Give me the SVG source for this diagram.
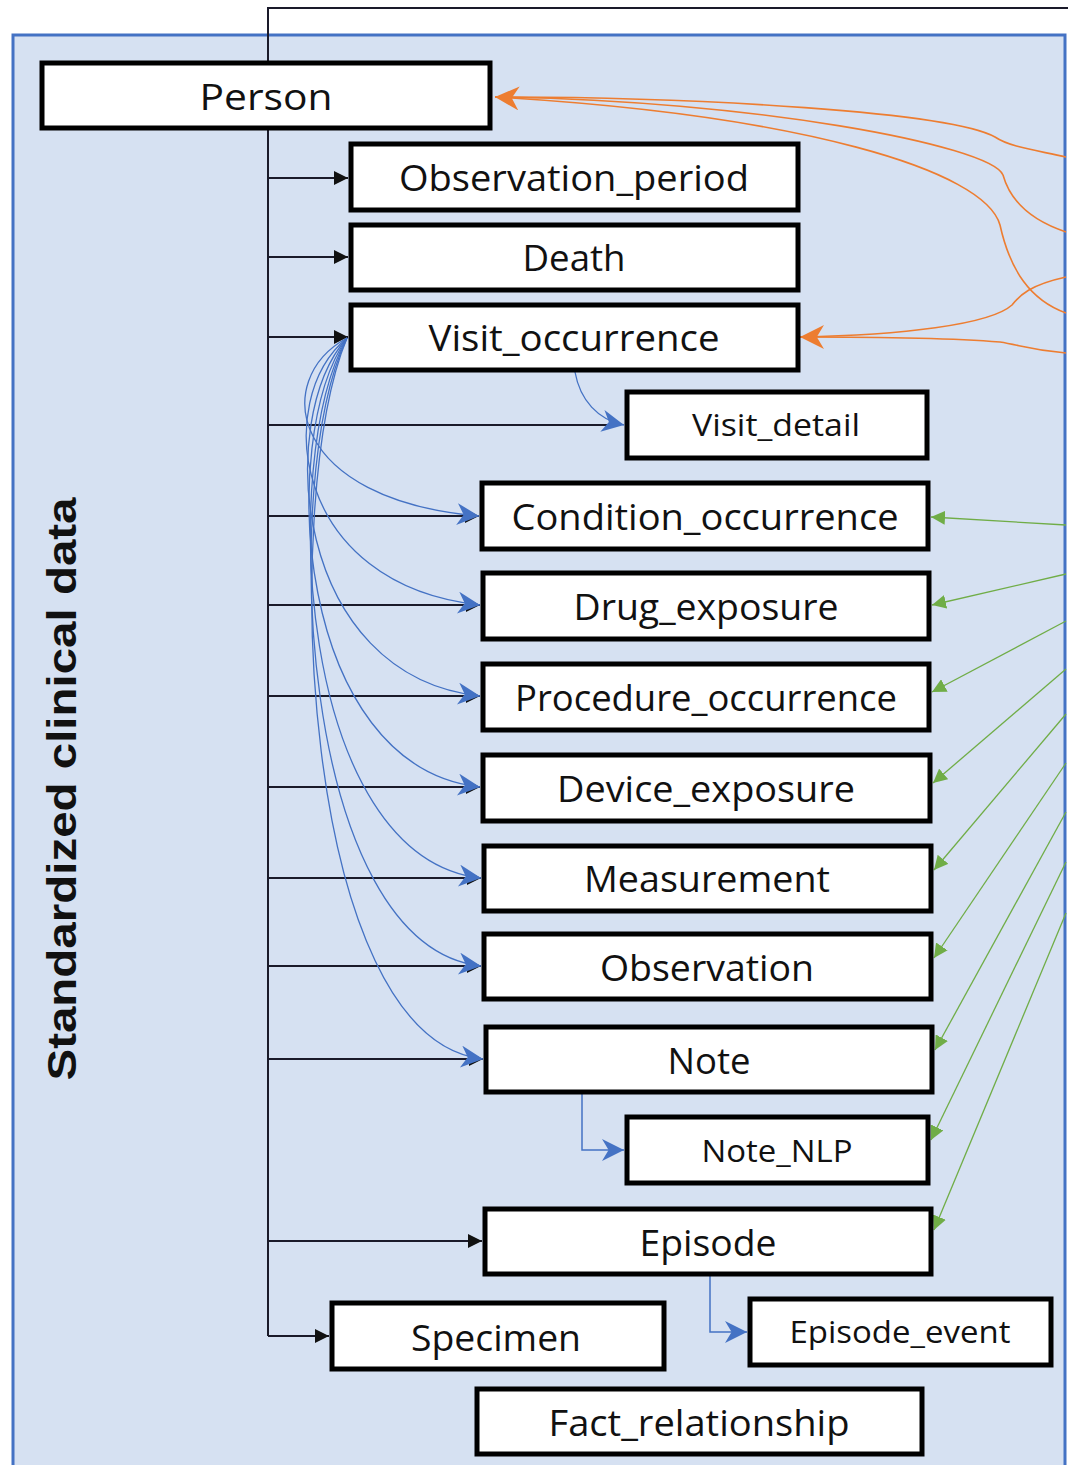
<svg xmlns="http://www.w3.org/2000/svg" width="1068" height="1465" viewBox="0 0 1068 1465">
  <defs>
    <marker id="arrBlack" viewBox="0 0 10 10" refX="10" refY="5" markerWidth="17" markerHeight="14" markerUnits="userSpaceOnUse" orient="auto">
      <path d="M0,0 L10,5 L0,10 z" fill="#111"/>
    </marker>
    <marker id="arrBlue" viewBox="0 0 10 10" refX="10" refY="5" markerWidth="24" markerHeight="22" markerUnits="userSpaceOnUse" orient="auto">
      <path d="M0,0 L10,5 L0,10 L3,5 z" fill="#4472c4"/>
    </marker>
    <marker id="arrOrange" viewBox="0 0 10 10" refX="10" refY="5" markerWidth="24" markerHeight="24" markerUnits="userSpaceOnUse" orient="auto">
      <path d="M0,0 L10,5 L0,10 L3,5 z" fill="#ed7d31"/>
    </marker>
    <marker id="arrGreen" viewBox="0 0 10 10" refX="10" refY="5" markerWidth="14" markerHeight="14" markerUnits="userSpaceOnUse" orient="auto">
      <path d="M0,0 L10,5 L0,10 z" fill="#70ad47"/>
    </marker>
  </defs>
  <style>
    .box { fill: #ffffff; stroke: #000; stroke-width: 5; }
    .lbl { font-family: "Open Sans", "Liberation Sans", sans-serif; font-size: 36px; fill: #111; text-anchor: middle; font-weight: 500; }
    .sm { font-size: 31px; }
    .trunk { stroke: #1a1a2a; stroke-width: 2; fill: none; }
    .br { stroke: #1a1a2a; stroke-width: 2; fill: none; marker-end: url(#arrBlack); }
    .blue { stroke: #4472c4; stroke-width: 1.3; fill: none; marker-end: url(#arrBlue); }
    .blueE { stroke: #4472c4; stroke-width: 1.5; fill: none; marker-end: url(#arrBlue); }
    .org { stroke: #ed7d31; stroke-width: 1.6; fill: none; }
    .grn { stroke: #70ad47; stroke-width: 1.3; fill: none; marker-end: url(#arrGreen); }
  </style>

  <rect x="0" y="0" width="1068" height="1465" fill="#ffffff"/>
  <!-- domain panel -->
  <rect id="panel" x="13" y="35" width="1052" height="1445" fill="#d6e1f2" stroke="#4472c4" stroke-width="3"/>
  <text x="62" y="789" transform="rotate(-90 62 789)" font-family="'Liberation Sans', sans-serif" font-weight="bold" font-size="41" text-anchor="middle" dominant-baseline="central" textLength="583" lengthAdjust="spacingAndGlyphs" fill="#111">Standardized clinical data</text>

  <g id="connectors">
    <!-- person_id trunk -->
    <path class="trunk" d="M1068,8 L268,8 L268,1336"/>
    <line class="br" x1="268" y1="178" x2="348" y2="178"/>
    <line class="br" x1="268" y1="257" x2="348" y2="257"/>
    <line class="br" x1="268" y1="337" x2="348" y2="337"/>
    <line class="trunk" x1="268" y1="425" x2="620" y2="425"/>
    <line class="br" x1="268" y1="516" x2="479" y2="516"/>
    <line class="br" x1="268" y1="605" x2="480" y2="605"/>
    <line class="br" x1="268" y1="696" x2="480" y2="696"/>
    <line class="br" x1="268" y1="787" x2="480" y2="787"/>
    <line class="br" x1="268" y1="878" x2="481" y2="878"/>
    <line class="br" x1="268" y1="966" x2="481" y2="966"/>
    <line class="br" x1="268" y1="1059" x2="483" y2="1059"/>
    <line class="br" x1="268" y1="1241" x2="482" y2="1241"/>
    <line class="br" x1="268" y1="1336" x2="329" y2="1336"/>

    <!-- visit_occurrence_id links -->
    <path class="blue" d="M575,372 C580,400 598,420 624,425"/>
    <path class="blue" d="M347,338 C270,380 290,500 479,516"/>
    <path class="blue" d="M347,338 C272,400 292,585 480,605"/>
    <path class="blue" d="M347,338 C274,420 294,676 480,696"/>
    <path class="blue" d="M347,338 C276,440 296,767 480,787"/>
    <path class="blue" d="M347,338 C278,460 298,858 481,878"/>
    <path class="blue" d="M347,338 C279,480 299,946 481,966"/>
    <path class="blue" d="M347,338 C280,500 300,1039 483,1059"/>
    <path class="blueE" d="M582,1094 L582,1150 L624,1150"/>
    <path class="blueE" d="M710,1275 L710,1332 L747,1332"/>

    <!-- location / provider / care_site links -->
    <path class="org" d="M1066,157 C1035,150 1010,147 995,137 C950,112 700,97 495,97"/>
    <path class="org" d="M1066,232 C1030,220 1010,200 1003,175 C990,145 750,100 495,97"/>
    <path class="org" d="M1066,313 C1030,300 1010,270 1000,225 C985,170 800,115 495,97" marker-end="url(#arrOrange)"/>
    <path class="org" d="M1066,277 C1030,285 1020,295 1012,305 C990,325 900,335 800,337"/>
    <path class="org" d="M1066,353 C1030,350 1020,345 1000,342 C950,338 880,337 800,337" marker-end="url(#arrOrange)"/>

    <!-- concept links -->
    <line class="grn" x1="1066" y1="525" x2="931" y2="517"/>
    <line class="grn" x1="1066" y1="574" x2="932" y2="605"/>
    <line class="grn" x1="1066" y1="621" x2="932" y2="692"/>
    <line class="grn" x1="1066" y1="669" x2="933" y2="783"/>
    <line class="grn" x1="1066" y1="714" x2="934" y2="870"/>
    <line class="grn" x1="1066" y1="763" x2="934" y2="958"/>
    <line class="grn" x1="1066" y1="812" x2="935" y2="1050"/>
    <line class="grn" x1="1066" y1="862" x2="931" y2="1140"/>
    <line class="grn" x1="1066" y1="913" x2="934" y2="1230"/>
  </g>

  <g id="person"><rect class="box" x="42" y="63" width="448" height="65"/><text class="lbl" x="266" y="110" font-size="40" textLength="133" lengthAdjust="spacingAndGlyphs">Person</text></g>
  <g id="observation_period"><rect class="box" x="351" y="144" width="447" height="66"/><text class="lbl" x="574" y="191" textLength="350" lengthAdjust="spacingAndGlyphs">Observation_period</text></g>
  <g id="death"><rect class="box" x="351" y="225" width="447" height="65"/><text class="lbl" x="574" y="271" textLength="103" lengthAdjust="spacingAndGlyphs">Death</text></g>
  <g id="visit_occurrence"><rect class="box" x="351" y="305" width="447" height="65"/><text class="lbl" x="574" y="351" textLength="291" lengthAdjust="spacingAndGlyphs">Visit_occurrence</text></g>
  <g id="visit_detail"><rect class="box" x="627" y="392" width="300" height="66"/><text class="lbl sm" x="776" y="436" textLength="168" lengthAdjust="spacingAndGlyphs">Visit_detail</text></g>
  <g id="condition_occurrence"><rect class="box" x="482" y="483" width="446" height="66"/><text class="lbl" x="705" y="530" textLength="387" lengthAdjust="spacingAndGlyphs">Condition_occurrence</text></g>
  <g id="drug_exposure"><rect class="box" x="483" y="573" width="446" height="66"/><text class="lbl" x="706" y="620" textLength="265" lengthAdjust="spacingAndGlyphs">Drug_exposure</text></g>
  <g id="procedure_occurrence"><rect class="box" x="483" y="664" width="446" height="66"/><text class="lbl" x="706" y="711" textLength="382" lengthAdjust="spacingAndGlyphs">Procedure_occurrence</text></g>
  <g id="device_exposure"><rect class="box" x="483" y="755" width="447" height="66"/><text class="lbl" x="706" y="802" textLength="298" lengthAdjust="spacingAndGlyphs">Device_exposure</text></g>
  <g id="measurement"><rect class="box" x="484" y="846" width="447" height="65"/><text class="lbl" x="707" y="892" textLength="246" lengthAdjust="spacingAndGlyphs">Measurement</text></g>
  <g id="observation"><rect class="box" x="484" y="934" width="447" height="65"/><text class="lbl" x="707" y="981" textLength="214" lengthAdjust="spacingAndGlyphs">Observation</text></g>
  <g id="note"><rect class="box" x="486" y="1027" width="446" height="65"/><text class="lbl" x="709" y="1074" textLength="83" lengthAdjust="spacingAndGlyphs">Note</text></g>
  <g id="note_nlp"><rect class="box" x="627" y="1117" width="301" height="66"/><text class="lbl sm" x="777" y="1162" textLength="151" lengthAdjust="spacingAndGlyphs">Note_NLP</text></g>
  <g id="episode"><rect class="box" x="485" y="1209" width="446" height="65"/><text class="lbl" x="708" y="1256" textLength="137" lengthAdjust="spacingAndGlyphs">Episode</text></g>
  <g id="episode_event"><rect class="box" x="750" y="1299" width="301" height="66"/><text class="lbl sm" x="900" y="1343" textLength="221" lengthAdjust="spacingAndGlyphs">Episode_event</text></g>
  <g id="specimen"><rect class="box" x="332" y="1303" width="332" height="66"/><text class="lbl" x="496" y="1351" textLength="170" lengthAdjust="spacingAndGlyphs">Specimen</text></g>
  <g id="fact_relationship"><rect class="box" x="477" y="1389" width="445" height="65"/><text class="lbl" x="699" y="1436" textLength="301" lengthAdjust="spacingAndGlyphs">Fact_relationship</text></g>
</svg>
